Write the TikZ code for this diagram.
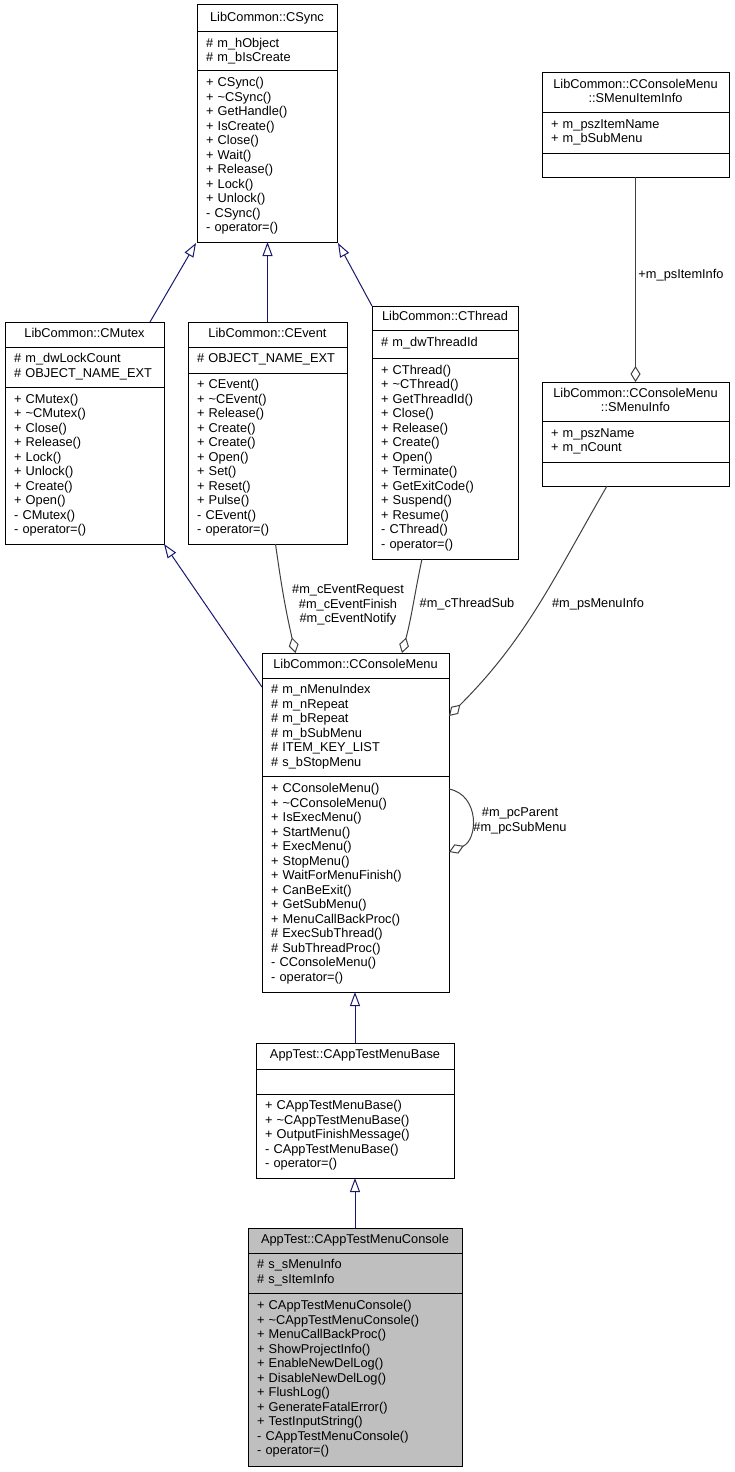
\documentclass[tikz,border=0pt]{standalone}
\usepackage{fontspec}
\setmainfont{Liberation Sans}
\usepackage{xcolor}
\usetikzlibrary{arrows.meta, positioning}

\definecolor{edgeblue}{HTML}{191970}
\definecolor{edgegray}{HTML}{404040}
\definecolor{nodegray}{HTML}{BFBFBF}
\newcommand{\umlfont}{\fontsize{12.8}{14.5}\selectfont\hyphenpenalty=10000\relax}

\begin{document}
\begin{tikzpicture}[
  x=1pt, y=-1pt,
  every node/.style={font=\umlfont},
  cpart/.style 2 args={draw, line width=1pt, fill=white, outer sep=0pt, inner xsep=9pt, inner ysep=0pt,
    text width=#1, minimum height=#2, align=left, execute at begin node=\strut, execute at end node=\strut},
  ctitle/.style 2 args={cpart={#1}{#2}, inner xsep=4pt, anchor=north west, align=center},
  inherit/.style={draw=edgeblue, line width=1pt, -{Triangle[open, length=14pt, width=10pt]}},
  aggr/.style={draw=edgegray, line width=1pt, -{Diamond[open, length=16pt, width=10pt]}},
  elabel/.style={inner sep=0pt, align=center}
]
\fill[white] (0,0) rectangle (734,1472);
\useasboundingbox (0,0) rectangle (734,1472);

% LibCommon::CSync
\node[ctitle={132pt}{27pt}] (sync) at (197,5) {LibCommon::CSync};
\node[cpart={122pt}{39pt}, below=0pt of sync] (sync-a) {\#~m\_hObject\\\#~m\_bIsCreate};
\node[cpart={122pt}{171pt}, below=0pt of sync-a] (sync-m) {+~CSync()\\+~\textasciitilde CSync()\\+~GetHandle()\\+~IsCreate()\\+~Close()\\+~Wait()\\+~Release()\\+~Lock()\\+~Unlock()\\-~CSync()\\-~operator=()};

% LibCommon::CMutex
\node[ctitle={151pt}{25pt}] (mutex) at (5,322) {LibCommon::CMutex};
\node[cpart={141pt}{40pt}, below=0pt of mutex] (mutex-a) {\#~m\_dwLockCount\\\#~OBJECT\_NAME\_EXT};
\node[cpart={141pt}{157pt}, below=0pt of mutex-a] (mutex-m) {+~CMutex()\\+~\textasciitilde CMutex()\\+~Close()\\+~Release()\\+~Lock()\\+~Unlock()\\+~Create()\\+~Open()\\-~CMutex()\\-~operator=()};

% LibCommon::CEvent
\node[ctitle={151pt}{25pt}] (event) at (188,322) {LibCommon::CEvent};
\node[cpart={141pt}{26pt}, below=0pt of event] (event-a) {\#~OBJECT\_NAME\_EXT};
\node[cpart={141pt}{171pt}, below=0pt of event-a] (event-m) {+~CEvent()\\+~\textasciitilde CEvent()\\+~Release()\\+~Create()\\+~Create()\\+~Open()\\+~Set()\\+~Reset()\\+~Pulse()\\-~CEvent()\\-~operator=()};

% LibCommon::CThread
\node[ctitle={138pt}{24pt}] (thread) at (372,306) {LibCommon::CThread};
\node[cpart={128pt}{28pt}, below=0pt of thread] (thread-a) {\#~m\_dwThreadId};
\node[cpart={128pt}{201pt}, below=0pt of thread-a] (thread-m) {+~CThread()\\+~\textasciitilde CThread()\\+~GetThreadId()\\+~Close()\\+~Release()\\+~Create()\\+~Open()\\+~Terminate()\\+~GetExitCode()\\+~Suspend()\\+~Resume()\\-~CThread()\\-~operator=()};

% LibCommon::CConsoleMenu::SMenuItemInfo
\node[ctitle={179pt}{39pt}] (item) at (542,73) {LibCommon::CConsoleMenu\\::SMenuItemInfo};
\node[cpart={169pt}{41pt}, below=0pt of item] (item-a) {+~m\_pszItemName\\+~m\_bSubMenu};
\node[cpart={169pt}{24pt}, below=0pt of item-a] (item-m) {};

% LibCommon::CConsoleMenu::SMenuInfo
\node[ctitle={179pt}{39pt}] (info) at (542,382) {LibCommon::CConsoleMenu\\::SMenuInfo};
\node[cpart={169pt}{41pt}, below=0pt of info] (info-a) {+~m\_pszName\\+~m\_nCount};
\node[cpart={169pt}{24pt}, below=0pt of info-a] (info-m) {};

% LibCommon::CConsoleMenu
\node[ctitle={179pt}{25pt}] (menu) at (262,653) {LibCommon::CConsoleMenu};
\node[cpart={169pt}{98pt}, below=0pt of menu] (menu-a) {\#~m\_nMenuIndex\\\#~m\_nRepeat\\\#~m\_bRepeat\\\#~m\_bSubMenu\\\#~ITEM\_KEY\_LIST\\\#~s\_bStopMenu};
\node[cpart={169pt}{216pt}, below=0pt of menu-a] (menu-m) {+~CConsoleMenu()\\+~\textasciitilde CConsoleMenu()\\+~IsExecMenu()\\+~StartMenu()\\+~ExecMenu()\\+~StopMenu()\\+~WaitForMenuFinish()\\+~CanBeExit()\\+~GetSubMenu()\\+~MenuCallBackProc()\\\#~ExecSubThread()\\\#~SubThreadProc()\\-~CConsoleMenu()\\-~operator=()};

% AppTest::CAppTestMenuBase
\node[ctitle={190pt}{26pt}] (base) at (256,1043) {AppTest::CAppTestMenuBase};
\node[cpart={180pt}{25pt}, below=0pt of base] (base-a) {};
\node[cpart={180pt}{84pt}, below=0pt of base-a] (base-m) {+~CAppTestMenuBase()\\+~\textasciitilde CAppTestMenuBase()\\+~OutputFinishMessage()\\-~CAppTestMenuBase()\\-~operator=()};

% AppTest::CAppTestMenuConsole
\node[ctitle={206pt}{25pt}, fill=nodegray] (console) at (248,1228) {AppTest::CAppTestMenuConsole};
\node[cpart={196pt}{40pt}, fill=nodegray, below=0pt of console] (console-a) {\#~s\_sMenuInfo\\\#~s\_sItemInfo};
\node[cpart={196pt}{173pt}, fill=nodegray, below=0pt of console-a] (console-m) {+~CAppTestMenuConsole()\\+~\textasciitilde CAppTestMenuConsole()\\+~MenuCallBackProc()\\+~ShowProjectInfo()\\+~EnableNewDelLog()\\+~DisableNewDelLog()\\+~FlushLog()\\+~GenerateFatalError()\\+~TestInputString()\\-~CAppTestMenuConsole()\\-~operator=()};

% inheritance
\draw[inherit] ([xshift=65.5pt]mutex.north) -- ([xshift=-1pt,yshift=-1pt]sync-m.south west);
\draw[inherit] (event.north) -- (event.north |- sync-m.south);
\draw[inherit] (thread.north west) -- ([xshift=1pt,yshift=-1pt]sync-m.south east);
\draw[inherit] ([yshift=-9pt]menu-a.north west) -- (mutex-m.south east);
\draw[inherit] (base.north) -- (base.north |- menu-m.south);
\draw[inherit] (console.north) -- (console.north |- base-m.south);

% aggregation
\draw[aggr] ([xshift=8pt]event-m.south) to[out=-82, in=103] ([xshift=-60pt]menu.north);
\draw[aggr] ([xshift=-23pt]thread-m.south) to[out=-102, in=75] ([xshift=46.5pt]menu.north);
\draw[aggr] ([xshift=-28.5pt]info-m.south) to[out=-120, in=45] ([yshift=11pt]menu-a.east);
\draw[aggr] (item-m.south) -- (info.north);
\draw[aggr] ([yshift=95pt]menu-m.east) .. controls +(31,6) and +(29,-12) .. ([yshift=32pt]menu-m.east);

% labels
\node[elabel] (lbl-event) at (348,605) {\#m\_cEventRequest\\\#m\_cEventFinish\\\#m\_cEventNotify};
\node[elabel] (lbl-thread) at (467,604) {\#m\_cThreadSub};
\node[elabel] (lbl-info) at (598,604) {\#m\_psMenuInfo};
\node[elabel] (lbl-item) at (681,275) {+m\_psItemInfo};
\node[elabel] (lbl-self) at (520,821) {\#m\_pcParent\\\#m\_pcSubMenu};

\end{tikzpicture}
\end{document}
